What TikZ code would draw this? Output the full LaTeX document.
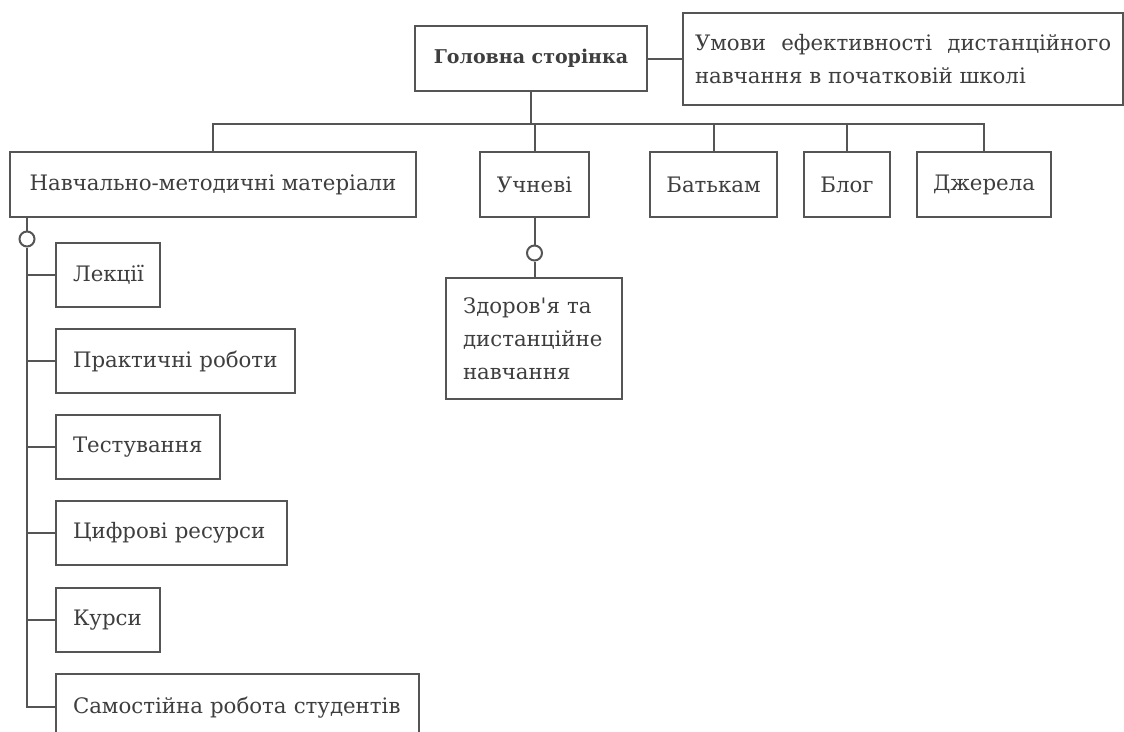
\documentclass[tikz,border=0pt]{standalone}
\usepackage{fontspec}
\setmainfont{DejaVu Serif}[Ligatures=TeXOff]
\definecolor{linec}{HTML}{555555}
\definecolor{textc}{HTML}{3E3E3E}
\tikzset{
  base/.style={draw=linec, line width=2pt, text=textc, fill=white,
    font=\fontsize{21.3}{33}\selectfont, inner ysep=0pt, anchor=north west},
  cbox/.style={base, align=center, inner xsep=4pt},
  lbox/.style={base, align=left, inner xsep=17pt},
  conn/.style={draw=linec, line width=2pt},
  knob/.style={circle, draw=linec, line width=2pt, fill=white, minimum size=15pt, inner sep=0pt}
}
\begin{document}
\begin{tikzpicture}[x=1pt, y=-1pt]
\useasboundingbox (0,0) rectangle (1124,731);
\clip (0,0) rectangle (1124,731);
\fill[white] (0,0) rectangle (1124,731);

% top
\node[cbox, minimum width=232pt, minimum height=65pt, font=\fontsize{19}{24}\selectfont\bfseries] (gs) at (414,25) {Головна сторінка};
\node[base, align=justify, text width=416pt, inner xsep=12pt, minimum height=92pt] (um) at (682,12)
  {Умови ефективності дистанційного\linebreak навчання в початковій школі};

% second row
\node[cbox, minimum width=406pt, minimum height=65pt] (nm) at (9,151) {Навчально-методичні матеріали};
\node[cbox, minimum width=109pt, minimum height=65pt] (uc) at (479,151) {Учневі};
\node[cbox, minimum width=127pt, minimum height=65pt] (bt) at (649,151) {Батькам};
\node[cbox, minimum width=86pt, minimum height=65pt] (bl) at (803,151) {Блог};
\node[cbox, minimum width=134pt, minimum height=65pt] (dz) at (916,151) {Джерела};

% pupils child
\node[lbox, text width=142pt, minimum height=121pt] (zd) at (445,277) {Здоров'я та\\дистанційне\\навчання};

% materials children
\node[lbox, text width=70pt, minimum height=64pt] (s1) at (55,242) {Лекції};
\node[lbox, text width=205pt, minimum height=64pt] (s2) at (55,328) {Практичні роботи};
\node[lbox, text width=130pt, minimum height=64pt] (s3) at (55,414) {Тестування};
\node[lbox, text width=197pt, minimum height=64pt] (s4) at (55,500) {Цифрові ресурси};
\node[lbox, text width=70pt, minimum height=64pt] (s5) at (55,587) {Курси};
\node[lbox, text width=329pt, minimum height=68pt] (s6) at (55,673) {Самостійна робота студентів};

% connectors top
\coordinate (bus) at (0,124);
\draw[conn] (gs.east) -- (gs.east -| um.west);
\draw[conn] (gs.south) -- (gs.south |- bus);
\draw[conn] (nm.north) -- (nm.north |- bus) -- (dz.north |- bus) -- (dz.north);
\draw[conn] (uc.north) -- (uc.north |- bus);
\draw[conn] (bt.north) -- (bt.north |- bus);
\draw[conn] (bl.north) -- (bl.north |- bus);

% pupils branch
\node[knob] (k1) at ([yshift=-35pt]uc.south) {};
\draw[conn] (uc.south) -- (k1.north);
\draw[conn] (k1.south) -- (k1.south |- zd.north);

% materials branch
\coordinate (lv) at ([xshift=18pt]nm.south west);
\node[knob] (k2) at ([yshift=-21pt]lv) {};
\draw[conn] (lv) -- (k2.north);
\draw[conn] (k2.south) |- ([yshift=-34pt]s6.north west);
\foreach \s in {s1,s2,s3,s4,s5}
  \draw[conn] (k2 |- \s.west) -- (\s.west);
\end{tikzpicture}
\end{document}
